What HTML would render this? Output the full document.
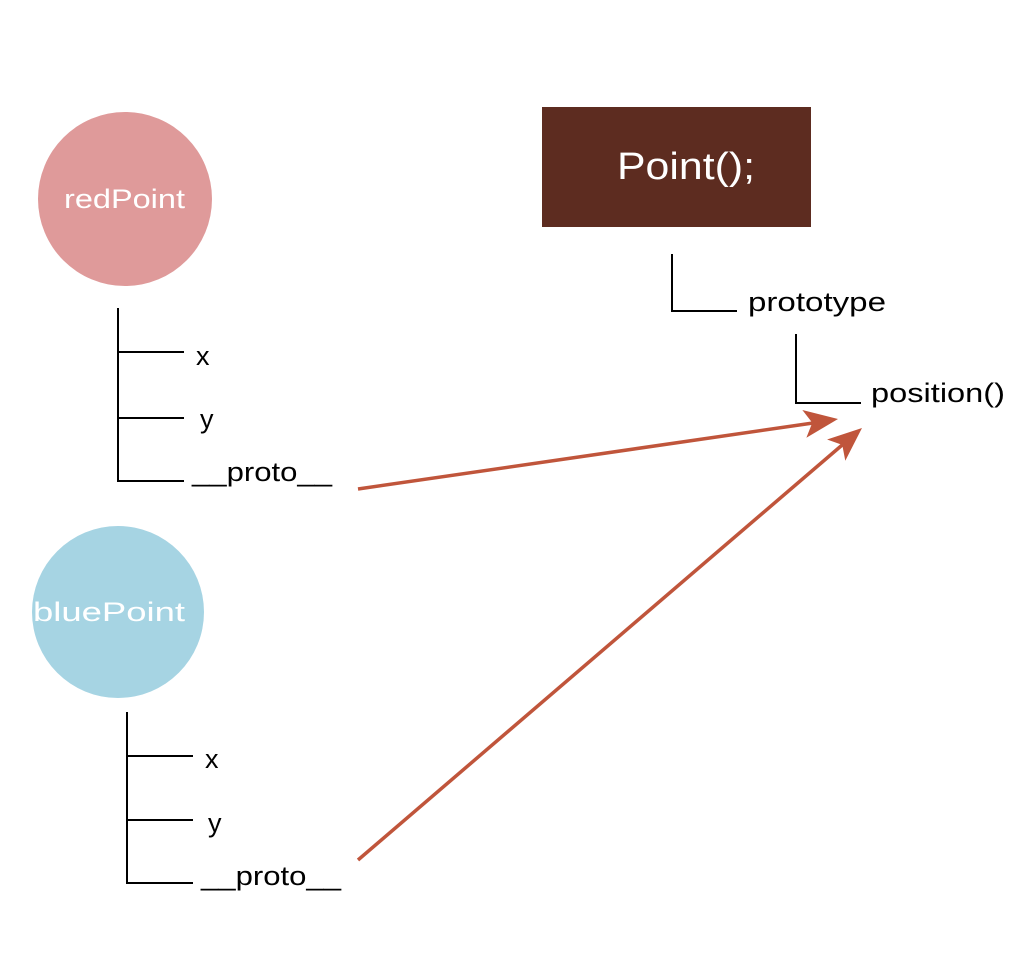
<!DOCTYPE html>
<html><head><meta charset="utf-8"><style>
body{margin:0;background:#fff;}
svg text{font-family:"Liberation Sans",sans-serif;}
</style></head><body>
<svg width="1036" height="948" viewBox="0 0 1036 948" xmlns="http://www.w3.org/2000/svg">
<circle cx="125" cy="199" r="87" fill="#df9a9a"/>
<text x="64" y="208" font-size="27" fill="#fff" textLength="121" lengthAdjust="spacingAndGlyphs">redPoint</text>
<circle cx="118" cy="612" r="86" fill="#a6d4e3"/>
<text x="33" y="621" font-size="27" fill="#fff" textLength="152" lengthAdjust="spacingAndGlyphs">bluePoint</text>
<rect x="542" y="107" width="269" height="120" fill="#5d2c20"/>
<text x="617" y="179" font-size="38" fill="#fff" textLength="138" lengthAdjust="spacingAndGlyphs">Point();</text>
<g stroke="#000" stroke-width="2" fill="none">
<path d="M118 308V481H184M118 352H184M118 418H184"/>
<path d="M127 712V883H193M127 756H193M127 820H193"/>
<path d="M672 254V311H737"/>
<path d="M796 334V403H861"/>
</g>
<g font-size="27" fill="#000">
<text x="196" y="365">x</text>
<text x="200" y="428">y</text>
<text x="192" y="481" textLength="140" lengthAdjust="spacingAndGlyphs">__proto__</text>
<text x="205" y="768">x</text>
<text x="208" y="832">y</text>
<text x="201" y="885" textLength="140" lengthAdjust="spacingAndGlyphs">__proto__</text>
<text x="748" y="311" textLength="138" lengthAdjust="spacingAndGlyphs">prototype</text>
<text x="871" y="402" textLength="134" lengthAdjust="spacingAndGlyphs">position()</text>
</g>
<g stroke="#c0553b" stroke-width="3.5" fill="none">
<line x1="358" y1="489" x2="820" y2="422"/>
<line x1="358" y1="860" x2="848" y2="440"/>
</g>
<g fill="#c0553b">
<g transform="translate(838,419) rotate(-8.3)"><path d="M0 0L-34 -14L-26 0L-34 14Z"/></g>
<g transform="translate(862,428) rotate(-40.6)"><path d="M0 0L-34 -14L-26 0L-34 14Z"/></g>
</g>
</svg>
</body></html>
